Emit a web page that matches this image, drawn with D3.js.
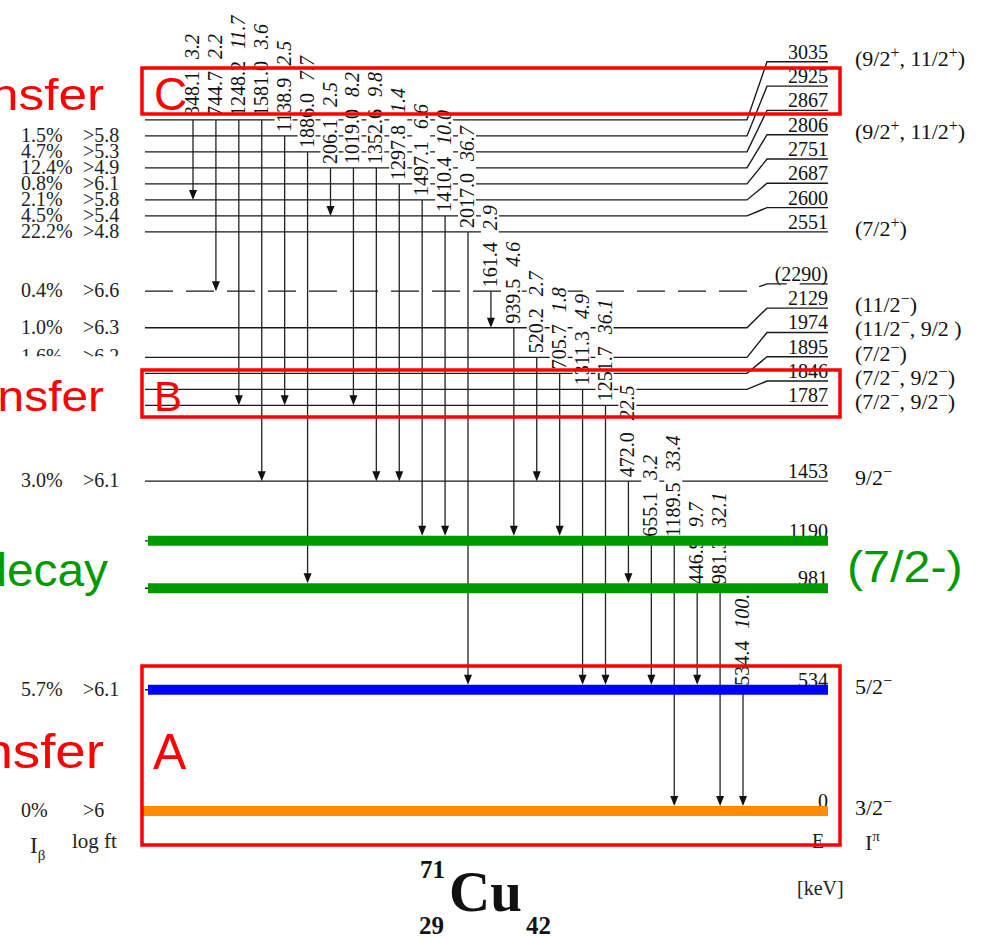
<!DOCTYPE html>
<html>
<head>
<meta charset="utf-8">
<script src="https://cdn.jsdelivr.net/npm/d3@7/dist/d3.min.js"></script>
<style>
  body { margin: 0; background: #fff; }
  svg { display: block; }
</style>
</head>
<body>
<svg id="chart" width="996" height="938"></svg>
<script>
// 71Cu levels (keV), as read from the scheme
var levelEnergies = [3035, 2925, 2867, 2806, 2751, 2687, 2600, 2551, 2290, 2129, 1974, 1895, 1846, 1787, 1453, 1190, 981, 534, 0];
var levelNames = ['3035', '2925', '2867', '2806', '2751', '2687', '2600', '2551', '(2290)', '2129', '1974', '1895', '1846', '1787', '1453', '1190', '981', '534', '0'];
var tentativeLevels = [2290];

// spin / parity, '^' raises the next character
var spinLevels = [3035, 2806, 2551, 2129, 1974, 1895, 1846, 1787, 1453, 534, 0];
var spinNames = ['(9/2^+, 11/2^+)', '(9/2^+, 11/2^+)', '(7/2^+)', '(11/2^\u2212)', '(11/2^\u2212, 9/2 )',
    '(7/2^\u2212)', '(7/2^\u2212, 9/2^\u2212)', '(7/2^\u2212, 9/2^\u2212)', '9/2^\u2212', '5/2^\u2212', '3/2^\u2212'];

// beta feeding
var feedLevels = [2925, 2867, 2806, 2751, 2687, 2600, 2551, 2290, 2129, 1974, 1453, 534, 0];
var feedIb = ['1.5%', '4.7%', '12.4%', '0.8%', '2.1%', '4.5%', '22.2%', '0.4%', '1.0%', '1.6%', '3.0%', '5.7%', '0%'];
var feedLogft = ['>5.8', '>5.3', '>4.9', '>6.1', '>5.8', '>5.4', '>4.8', '>6.6', '>6.3', '>6.2', '>6.1', '>6.1', '>6'];

// gamma transitions, left to right
var gammaFrom = [3035, 3035, 3035, 3035, 2925, 2867, 2806, 2806, 2806, 2751, 2687, 2600, 2551, 2290, 2129, 1974, 1895, 1846, 1787, 1453, 1190, 1190, 981, 981, 534];
var gammaTo = [2687, 2290, 1787, 1453, 1787, 981, 2600, 1787, 1453, 1453, 1190, 1190, 534, 2129, 1190, 1453, 1190, 534, 534, 981, 534, 0, 534, 0, 0];
var gammaEnergy = [348.1, 744.7, 1248.2, 1581.0, 1138.9, 1886.0, 206.1, 1019.0, 1352.6, 1297.8, 1497.1, 1410.4, 2017.0, 161.4, 939.5, 520.2, 705.7, 1311.3, 1251.7, 472.0, 655.1, 1189.5, 446.9, 981.3, 534.4];
var gammaIntensity = [3.2, 2.2, 11.7, 3.6, 2.5, 7.7, 2.5, 8.2, 9.8, 1.4, 6.6, 10.0, 36.7, 2.9, 4.6, 2.7, 1.8, 4.9, 36.1, 22.5, 3.2, 33.4, 9.7, 32.1, 100.0];

// levels highlighted by hand on the figure
var markedLevels = [1190, 981, 534, 0];
var markedColors = ['#009a00', '#009a00', '#0000ff', '#ff8c00'];

var svg = d3.select('#chart'),
    serif = '"Liberation Serif", "Times New Roman", serif',
    sans = '"Liberation Sans", Arial, sans-serif',
    xStart = 145,
    xKink1 = 747,
    xKink2 = 767,
    xEnd = 828;

var yScale = d3.scaleLinear().domain([0, 3000]).range([811, 130]);
var xGamma = d3.scalePoint().domain(d3.range(gammaEnergy.length)).range([193, 743]);

// push levels apart: 16 px on the left (lines), 24 px on the right (labels)
function spread(source, gap) {
    var out = {};
    levelEnergies.slice().sort(d3.ascending).forEach(function (e, i, arr) {
        var v = source(e);
        if (i > 0) {
            v = Math.min(v, out[arr[i - 1]] - gap);
        }
        out[e] = v;
    });
    return out;
}

var yL = spread(yScale, 16);
var yR = spread(function (e) { return yL[e]; }, 24.3);

function yLeft(e) { return yL[e]; }

function isMarked(e) {
    return markedLevels.indexOf(e) >= 0;
}

function richText(sel, str, supSize, rise) {
    var parts = str.split('^');
    sel.append('tspan').text(parts[0]);
    parts.slice(1).forEach(function (p) {
        sel.append('tspan').attr('font-size', supSize).attr('dy', -rise).text(p.charAt(0));
        if (p.length > 1) {
            sel.append('tspan').attr('dy', rise).text(p.slice(1));
        }
    });
}

var levelLine = d3.line();

// level lines
svg.append('g')
    .selectAll('path')
    .data(levelEnergies)
    .join('path')
    .attr('d', function (e) {
        return levelLine([[xStart, yLeft(e)], [xKink1, yLeft(e)], [xKink2, yR[e]], [xEnd, yR[e]]]);
    })
    .attr('fill', 'none')
    .attr('stroke', '#1a1a1a')
    .attr('stroke-width', 1.4)
    .attr('stroke-dasharray', function (e) {
        return tentativeLevels.indexOf(e) >= 0 ? '28,13' : null;
    });

var gammas = gammaEnergy.map(function (e, i) {
    return { idx: i, from: gammaFrom[i], to: gammaTo[i], energy: e, intensity: gammaIntensity[i] };
});

// rotated transition labels, each on a white patch that breaks the level lines
var labels = svg.append('g')
    .selectAll('g')
    .data(gammas)
    .join('g')
    .attr('transform', function (d) {
        return 'translate(' + (xGamma(d.idx) + 6) + ',' + (yLeft(d.from) - 4) + ') rotate(-90)';
    });

var labelText = labels.append('text')
    .attr('font-family', serif)
    .attr('font-size', 20)
    .attr('fill', '#111');

labelText.append('tspan').text(function (d) { return d.energy.toFixed(1); });
labelText.append('tspan')
    .attr('dx', 12)
    .attr('font-style', 'italic')
    .text(function (d) { return d.intensity.toFixed(1); });

labels.each(function () {
    var g = d3.select(this),
        box = g.select('text').node().getBBox();
    g.insert('rect', 'text')
        .attr('x', -1)
        .attr('y', -16)
        .attr('width', box.width + 3)
        .attr('height', 18)
        .attr('fill', '#fff');
});

// vertical gamma lines with arrowheads
function tipY(e) {
    return yLeft(e) - (isMarked(e) ? 5 : 0);
}

var gLines = svg.append('g');

gLines.selectAll('line')
    .data(gammas)
    .join('line')
    .attr('x1', function (d) { return xGamma(d.idx); })
    .attr('x2', function (d) { return xGamma(d.idx); })
    .attr('y1', function (d) { return yLeft(d.from); })
    .attr('y2', function (d) { return tipY(d.to) - 8; })
    .attr('stroke', '#222')
    .attr('stroke-width', 1.3);

gLines.selectAll('path')
    .data(gammas)
    .join('path')
    .attr('d', function (d) {
        var x = xGamma(d.idx), t = tipY(d.to);
        return 'M' + (x - 4) + ',' + (t - 10) + 'L' + (x + 4) + ',' + (t - 10) + 'L' + x + ',' + t + 'Z';
    })
    .attr('fill', '#111');

// energies on the right
svg.append('g')
    .selectAll('text')
    .data(levelEnergies)
    .join('text')
    .attr('x', xEnd)
    .attr('y', function (e) { return yR[e] - 3; })
    .attr('text-anchor', 'end')
    .attr('font-family', serif)
    .attr('font-size', 20)
    .attr('fill', '#111')
    .text(function (e, i) { return levelNames[i]; });

// spins
svg.append('g')
    .selectAll('text')
    .data(spinLevels)
    .join('text')
    .attr('x', 855)
    .attr('y', function (e) { return yR[e] + 4; })
    .attr('font-family', serif)
    .attr('font-size', 22)
    .attr('fill', '#111')
    .each(function (e, i) {
        richText(d3.select(this), spinNames[i], 16, 8);
    });

// feeding column, the 1974 row is cut in half on the figure
svg.append('clipPath')
    .attr('id', 'cut-1974')
    .append('rect')
    .attr('x', 0)
    .attr('y', 0)
    .attr('width', 140)
    .attr('height', yLeft(1974) - 1);

var feed = svg.append('g')
    .attr('font-family', serif)
    .attr('font-size', 20)
    .attr('fill', '#222');

feed.selectAll('text.ib')
    .data(feedLevels)
    .join('text')
    .attr('class', 'ib')
    .attr('x', 21)
    .attr('y', function (e) { return yLeft(e) + 6; })
    .attr('clip-path', function (e) { return e === 1974 ? 'url(#cut-1974)' : null; })
    .text(function (e, i) { return feedIb[i]; });

feed.selectAll('text.ft')
    .data(feedLevels)
    .join('text')
    .attr('class', 'ft')
    .attr('x', 83)
    .attr('y', function (e) { return yLeft(e) + 6; })
    .attr('clip-path', function (e) { return e === 1974 ? 'url(#cut-1974)' : null; })
    .text(function (e, i) { return feedLogft[i]; });

// column headers
var ib = feed.append('text').attr('x', 30).attr('y', 853).attr('font-size', 23);
ib.append('tspan').text('I');
ib.append('tspan').attr('font-size', 15).attr('dy', 7).text('\u03b2');
feed.append('text').attr('x', 72).attr('y', 848).attr('font-size', 21).text('log ft');
feed.append('text').attr('x', 812).attr('y', 848).attr('font-size', 20).text('E');
var ip = feed.append('text').attr('x', 865).attr('y', 850).attr('font-size', 22);
ip.append('tspan').text('I');
ip.append('tspan').attr('font-size', 15).attr('dy', -9).text('\u03c0');
feed.append('text').attr('x', 797).attr('y', 895).attr('font-size', 20).text('[keV]');

// nucleus
var nucl = svg.append('g').attr('font-family', serif).attr('font-weight', 'bold').attr('fill', '#111');
nucl.append('text').attr('x', 420).attr('y', 878).attr('font-size', 25).text('71');
nucl.append('text').attr('x', 449).attr('y', 911).attr('font-size', 57).text('Cu');
nucl.append('text').attr('x', 419).attr('y', 934).attr('font-size', 25).text('29');
nucl.append('text').attr('x', 526).attr('y', 934).attr('font-size', 25).text('42');

// hand-drawn highlights
svg.append('g')
    .selectAll('line')
    .data(markedLevels)
    .join('line')
    .attr('x1', function (e) { return e === 0 ? 143 : 148; })
    .attr('x2', xEnd)
    .attr('y1', function (e) { return yLeft(e); })
    .attr('y2', function (e) { return yLeft(e); })
    .attr('stroke', function (e, i) { return markedColors[i]; })
    .attr('stroke-width', 10);

var boxes = svg.append('g').attr('fill', 'none').attr('stroke', '#ff0000').attr('stroke-width', 3.5);
boxes.append('rect').attr('x', 142).attr('y', 68).attr('width', 698).attr('height', 46);
boxes.append('rect').attr('x', 142).attr('y', 370).attr('width', 698).attr('height', 47);
boxes.append('rect').attr('x', 142).attr('y', 666).attr('width', 698).attr('height', 179);

// side notes, stretched wide like the pasted originals
function note(text, xRight, y, size, color, stretch) {
    svg.append('text')
        .attr('transform', 'translate(' + xRight + ',' + y + ') scale(' + stretch + ',1)')
        .attr('text-anchor', 'end')
        .attr('font-family', sans)
        .attr('font-size', size)
        .attr('fill', color)
        .text(text);
}
note('transfer', 104, 110, 45, '#ff0000', 1.14);
note('transfer', 104, 411, 42, '#ff0000', 1.14);
note('transfer', 104, 768, 48, '#ff0000', 1.14);
note('decay', 108, 586, 46, '#009a00', 1.04);

var letters = svg.append('g').attr('font-family', sans).attr('fill', '#ff0000');
letters.append('text').attr('x', 154).attr('y', 110).attr('font-size', 46).text('C');
letters.append('text').attr('x', 154).attr('y', 411).attr('font-size', 42).text('B');
letters.append('text').attr('x', 153).attr('y', 769).attr('font-size', 50).text('A');

svg.append('text')
    .attr('transform', 'translate(847,582) scale(1.1,1)')
    .attr('font-family', sans)
    .attr('font-size', 44)
    .attr('fill', '#009a00')
    .text('(7/2-)');
</script>
</body>
</html>
